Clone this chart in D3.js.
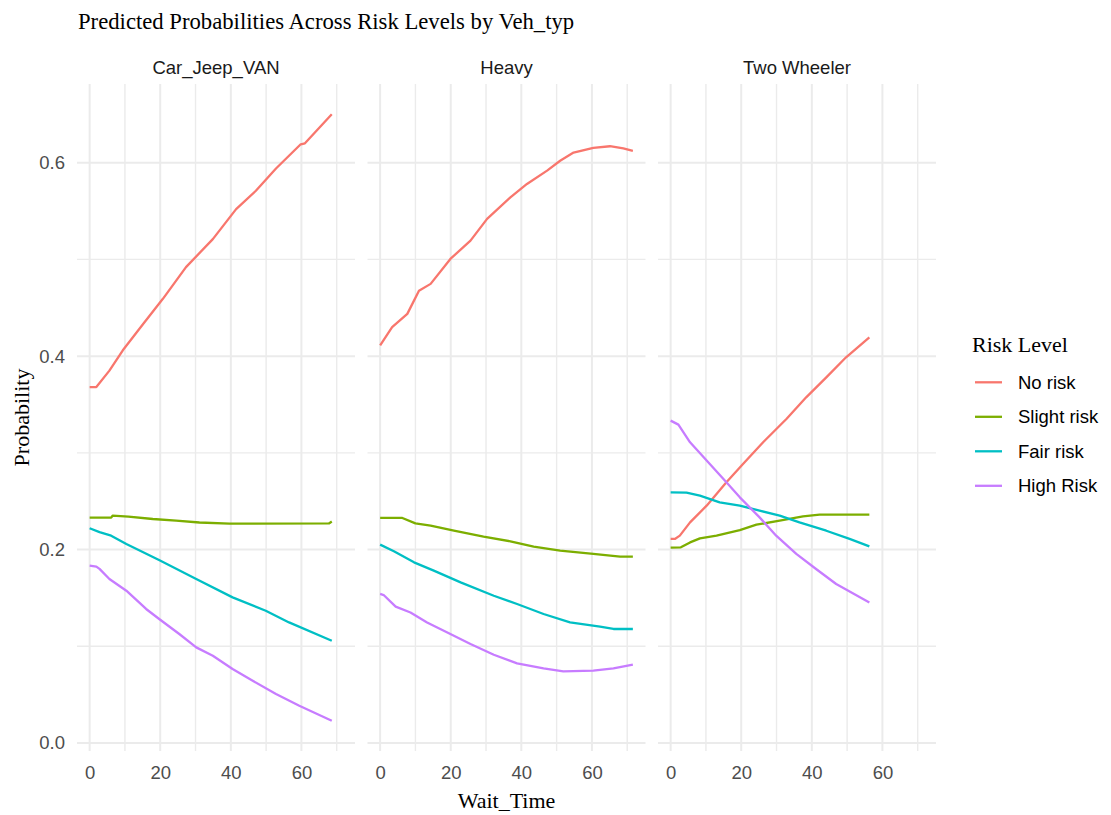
<!DOCTYPE html>
<html>
<head>
<meta charset="utf-8">
<script src="https://cdn.jsdelivr.net/npm/d3@7"></script>
<style>
  body { margin: 0; background: #fff; }
  svg text.sans { font-family: "Liberation Sans", Arial, sans-serif; }
  svg text.serif { font-family: "Liberation Serif", "Times New Roman", serif; }
</style>
</head>
<body>
<div id="chart"></div>
<script>
// facets and risk levels
const facets = ["Car_Jeep_VAN", "Heavy", "Two Wheeler"];
const riskLevels = ["No risk", "Slight risk", "Fair risk", "High Risk"];
const riskColors = ["#F8766D", "#7CAE00", "#00BFC4", "#C77CFF"];

const xMajor = [0, 20, 40, 60];
const xMinor = [10, 30, 50, 70];
const yMajor = [0, 0.2, 0.4, 0.6];
const yMinor = [0.1, 0.3, 0.5];

// [Wait_Time, probability]
const carNoRisk = [[0, 0.368], [1.9, 0.368], [5.6, 0.385], [9.4, 0.406], [15.1, 0.433], [20.7, 0.459], [27.3, 0.492], [34.9, 0.521], [41.5, 0.552], [47.1, 0.571], [52.8, 0.594], [59.8, 0.619], [61, 0.620], [68.6, 0.650]];
const carSlight = [[0, 0.233], [6.1, 0.233], [6.5, 0.235], [11, 0.234], [17.9, 0.2316], [24.5, 0.230], [31.1, 0.228], [39.6, 0.2268], [67.8, 0.227], [68.6, 0.229]];
const carFair = [[0, 0.222], [2.8, 0.218], [6.1, 0.2144], [10.4, 0.2058], [19.8, 0.189], [30.2, 0.1696], [40.5, 0.1506], [49.9, 0.1368], [56.5, 0.1247], [68.6, 0.1057]];
const carHigh = [[0, 0.1834], [1.9, 0.1824], [2.8, 0.180], [5.6, 0.1696], [10.4, 0.1575], [16, 0.1386], [19.8, 0.128], [25.4, 0.1127], [30.2, 0.0989], [34.9, 0.0903], [40.5, 0.0765], [46.2, 0.0644], [52.8, 0.0507], [59.4, 0.0386], [68.6, 0.0231]];

const heavyNoRisk = [[0, 0.411], [3.4, 0.430], [7.7, 0.4437], [11, 0.4677], [14.3, 0.4747], [19.9, 0.5005], [25.6, 0.5194], [30.3, 0.5419], [36.9, 0.5642], [41.6, 0.578], [47.3, 0.5918], [51, 0.602], [54.8, 0.6105], [60.4, 0.6154], [65.1, 0.617], [68.9, 0.6147], [71.6, 0.6123]];
const heavySlight = [[0, 0.2327], [6.3, 0.2327], [10, 0.2271], [14.3, 0.2247], [20.9, 0.2195], [29.3, 0.2133], [36.9, 0.2085], [43.5, 0.203], [51, 0.1989], [60.4, 0.1955], [68, 0.1927], [71.6, 0.1927]];
const heavyFair = [[0, 0.2051], [3.9, 0.1982], [9.6, 0.1868], [15.2, 0.1782], [22.8, 0.1661], [32.2, 0.1523], [38.8, 0.1437], [46.3, 0.1334], [53.8, 0.1247], [62.3, 0.1203], [66.1, 0.1179], [71.6, 0.1179]];
const heavyHigh = [[0, 0.1541], [1, 0.153], [4.4, 0.141], [8.6, 0.135], [13.3, 0.1247], [19.9, 0.1127], [25.6, 0.1024], [32.2, 0.0913], [38.8, 0.0823], [46.3, 0.0772], [51.9, 0.074], [60.4, 0.0748], [66.1, 0.0772], [71.6, 0.081]];

const twoNoRisk = [[0, 0.211], [1.2, 0.211], [2.6, 0.2144], [5.5, 0.2281], [10.2, 0.2454], [15.8, 0.2695], [20.5, 0.2885], [26.2, 0.3109], [32.8, 0.335], [38.4, 0.3574], [44.1, 0.378], [49.7, 0.3988], [56.3, 0.4194]];
const twoSlight = [[0, 0.202], [2.9, 0.2023], [5.5, 0.2074], [8.3, 0.2116], [13, 0.2144], [19.6, 0.2202], [24.3, 0.2257], [30.9, 0.2299], [37.5, 0.2343], [42.2, 0.2361], [56.3, 0.2361]];
const twoFair = [[0, 0.2592], [4.5, 0.2589], [8.3, 0.2557], [13.9, 0.2488], [19.6, 0.2454], [25.2, 0.2402], [30.9, 0.2351], [36.5, 0.2281], [44.1, 0.2195], [50.7, 0.211], [56.3, 0.2033]];
const twoHigh = [[0, 0.3333], [2.2, 0.3292], [5.5, 0.3109], [11.1, 0.2885], [15.8, 0.2695], [19.6, 0.254], [25.2, 0.2333], [29.9, 0.2144], [35.6, 0.1955], [41.2, 0.1799], [46.9, 0.1644], [56.3, 0.1454]];

const seriesByFacet = [
  [carNoRisk, carSlight, carFair, carHigh],
  [heavyNoRisk, heavySlight, heavyFair, heavyHigh],
  [twoNoRisk, twoSlight, twoFair, twoHigh]
];

const width = 1111, height = 815;
const panelTop = 84, panelBottom = 751;
const panelLefts = [77, 367.5, 658];
const panelW = 278;

const svg = d3.select("#chart").append("svg")
  .attr("width", width)
  .attr("height", height);

// shared scales with ggplot's 5% expansion
const allPts = seriesByFacet.flat(2);
const xExt = d3.extent(allPts, p => p[0]);
const yExt = d3.extent(allPts, p => p[1]);
const xPad = (xExt[1] - xExt[0]) * 0.05, yPad = (yExt[1] - yExt[0]) * 0.05;

const y = d3.scaleLinear()
  .domain([yExt[0] - yPad, yExt[1] + yPad])
  .range([panelBottom, panelTop]);

const line = d3.line();

facets.forEach((name, fi) => {
  const x = d3.scaleLinear()
    .domain([xExt[0] - xPad, xExt[1] + xPad])
    .range([panelLefts[fi], panelLefts[fi] + panelW]);

  const g = svg.append("g");

  // grid
  g.selectAll(".ymin").data(yMinor).enter().append("line")
    .attr("x1", panelLefts[fi]).attr("x2", panelLefts[fi] + panelW)
    .attr("y1", d => y(d)).attr("y2", d => y(d))
    .attr("stroke", "#EBEBEB").attr("stroke-width", 1.4);
  g.selectAll(".xmin").data(xMinor.filter(d => x(d) <= panelLefts[fi] + panelW)).enter().append("line")
    .attr("y1", panelTop).attr("y2", panelBottom)
    .attr("x1", d => x(d)).attr("x2", d => x(d))
    .attr("stroke", "#EBEBEB").attr("stroke-width", 1.4);
  g.selectAll(".ymaj").data(yMajor).enter().append("line")
    .attr("x1", panelLefts[fi]).attr("x2", panelLefts[fi] + panelW)
    .attr("y1", d => y(d)).attr("y2", d => y(d))
    .attr("stroke", "#EBEBEB").attr("stroke-width", 2);
  g.selectAll(".xmaj").data(xMajor).enter().append("line")
    .attr("y1", panelTop).attr("y2", panelBottom)
    .attr("x1", d => x(d)).attr("x2", d => x(d))
    .attr("stroke", "#EBEBEB").attr("stroke-width", 2);

  // lines
  seriesByFacet[fi].forEach((pts, si) => {
    g.append("path")
      .attr("d", line(pts.map(p => [x(p[0]), y(p[1])])))
      .attr("fill", "none")
      .attr("stroke", riskColors[si])
      .attr("stroke-width", 2.3)
      .attr("stroke-linejoin", "round");
  });

  // strip label
  svg.append("text")
    .attr("class", "sans")
    .attr("x", panelLefts[fi] + panelW / 2)
    .attr("y", 74)
    .attr("text-anchor", "middle")
    .attr("font-size", 18.5)
    .attr("fill", "#1A1A1A")
    .text(name);

  // x axis tick labels
  const xAxis = svg.append("g")
    .attr("transform", `translate(0,${panelBottom + 15})`)
    .call(d3.axisBottom(x).tickValues(xMajor).tickSize(0).tickPadding(0));
  xAxis.select(".domain").remove();
  xAxis.selectAll("text")
    .attr("class", "sans")
    .attr("font-size", 18.5)
    .attr("fill", "#4D4D4D")
    .attr("dy", "0.71em");
});

// y axis tick labels
const yAxis = svg.append("g")
  .attr("transform", `translate(${panelLefts[0] - 12},0)`)
  .call(d3.axisLeft(y).tickValues(yMajor).tickSize(0).tickPadding(0).tickFormat(d3.format(".1f")));
yAxis.select(".domain").remove();
yAxis.selectAll("text")
  .attr("class", "sans")
  .attr("font-size", 18.5)
  .attr("fill", "#4D4D4D");

// titles
svg.append("text")
  .attr("class", "serif")
  .attr("x", 78).attr("y", 29)
  .attr("font-size", 22.7)
  .attr("fill", "#000")
  .text("Predicted Probabilities Across Risk Levels by Veh_typ");

svg.append("text")
  .attr("class", "serif")
  .attr("x", (panelLefts[0] + panelLefts[2] + panelW) / 2).attr("y", 808)
  .attr("text-anchor", "middle")
  .attr("font-size", 22)
  .attr("fill", "#000")
  .text("Wait_Time");

svg.append("text")
  .attr("class", "serif")
  .attr("transform", `translate(29,${(panelTop + panelBottom) / 2}) rotate(-90)`)
  .attr("text-anchor", "middle")
  .attr("font-size", 22)
  .attr("fill", "#000")
  .text("Probability");

// legend
const legend = svg.append("g").attr("transform", "translate(972,0)");
legend.append("text")
  .attr("class", "serif")
  .attr("x", 0).attr("y", 352)
  .attr("font-size", 22)
  .attr("fill", "#000")
  .text("Risk Level");

const item = legend.selectAll(".item").data(riskLevels).enter().append("g")
  .attr("transform", (d, i) => `translate(0,${382.3 + i * 34.5})`);
item.append("line")
  .attr("x1", 3).attr("x2", 30)
  .attr("stroke", (d, i) => riskColors[i])
  .attr("stroke-width", 2.3);
item.append("text")
  .attr("class", "sans")
  .attr("x", 46).attr("y", 0)
  .attr("dy", "0.35em")
  .attr("font-size", 18.5)
  .attr("fill", "#000")
  .text(d => d);
</script>
</body>
</html>
